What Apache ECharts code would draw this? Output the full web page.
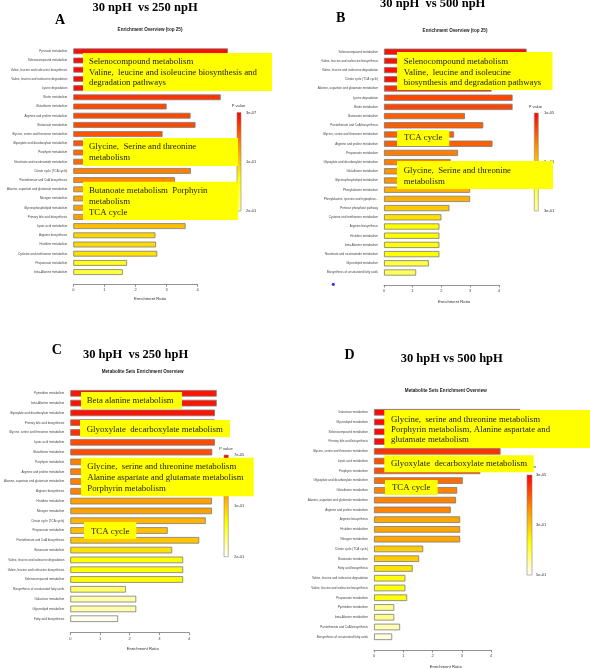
<!DOCTYPE html>
<html>
<head>
<meta charset="utf-8">
<script src="https://cdn.jsdelivr.net/npm/echarts@6/dist/echarts.min.js"></script>
<style>
  html, body { margin: 0; padding: 0; background: #fff; }
  #chart { width: 590px; height: 669px; }
</style>
</head>
<body>
<div id="chart"></div>
<script>
// ---- data ----
const catsA = ['Pyruvate metabolism', 'Selenocompound metabolism', 'Valine, leucine and isoleucine biosynthesis',
  'Valine, leucine and isoleucine degradation', 'Lysine degradation', 'Biotin metabolism', 'Glutathione metabolism',
  'Arginine and proline metabolism', 'Butanoate metabolism', 'Glycine, serine and threonine metabolism',
  'Glyoxylate and dicarboxylate metabolism', 'Porphyrin metabolism', 'Nicotinate and nicotinamide metabolism',
  'Citrate cycle (TCA cycle)', 'Pantothenate and CoA biosynthesis', 'Alanine, aspartate and glutamate metabolism',
  'Nitrogen metabolism', 'Glycerophospholipid metabolism', 'Primary bile acid biosynthesis', 'Lipoic acid metabolism',
  'Arginine biosynthesis', 'Histidine metabolism', 'Cysteine and methionine metabolism', 'Propanoate metabolism',
  'beta-Alanine metabolism'];
const ratioA = [4.97, 4.6, 4.6, 4.6, 4.2, 4.74, 3.0, 3.77, 3.93, 2.87, 3.3, 3.4, 3.4, 3.78, 3.27,
  3.5, 3.5, 3.5, 3.6, 3.61, 2.64, 2.66, 2.70, 1.73, 1.59];
const pA = [0.005, 0.005, 0.005, 0.005, 0.005, 0.024, 0.035, 0.035, 0.035, 0.04, 0.04, 0.05, 0.05, 0.061, 0.065,
  0.078, 0.078, 0.078, 0.078, 0.096, 0.11, 0.112, 0.116, 0.145, 0.16];
const legendA = ['3e-07', '1e-01', '2e-01'];

const catsB = ['Selenocompound metabolism', 'Valine, leucine and isoleucine biosynthesis',
  'Valine, leucine and isoleucine degradation', 'Citrate cycle (TCA cycle)', 'Alanine, aspartate and glutamate metabolism',
  'Lysine degradation', 'Biotin metabolism', 'Butanoate metabolism', 'Pantothenate and CoA biosynthesis',
  'Glycine, serine and threonine metabolism', 'Arginine and proline metabolism', 'Propanoate metabolism',
  'Glyoxylate and dicarboxylate metabolism', 'Glutathione metabolism', 'Glycerophospholipid metabolism',
  'Phenylalanine metabolism', 'Phenylalanine, tyrosine and tryptophan...', 'Pentose phosphate pathway',
  'Cysteine and methionine metabolism', 'Arginine biosynthesis', 'Histidine metabolism', 'beta-Alanine metabolism',
  'Nicotinate and nicotinamide metabolism', 'Glycerolipid metabolism', 'Biosynthesis of unsaturated fatty acids'];
const ratioB = [4.97, 4.5, 4.5, 4.3, 3.75, 4.48, 4.48, 2.82, 3.46, 2.44, 3.78, 2.58, 2.32, 2.6, 2.6,
  3.0, 3.0, 2.28, 2.0, 1.93, 1.93, 1.93, 1.93, 1.56, 1.12];
const pB = [0.011, 0.011, 0.011, 0.011, 0.032, 0.05, 0.05, 0.068, 0.068, 0.068, 0.068, 0.089, 0.089, 0.108, 0.108,
  0.131, 0.131, 0.152, 0.173, 0.2, 0.2, 0.2, 0.2, 0.24, 0.255];
const legendB = ['1e-05', '2e-01', '3e-01'];

const catsC = ['Pyrimidine metabolism', 'beta-Alanine metabolism', 'Glyoxylate and dicarboxylate metabolism',
  'Primary bile acid biosynthesis', 'Glycine, serine and threonine metabolism', 'Lipoic acid metabolism',
  'Glutathione metabolism', 'Porphyrin metabolism', 'Arginine and proline metabolism',
  'Alanine, aspartate and glutamate metabolism', 'Arginine biosynthesis', 'Histidine metabolism', 'Nitrogen metabolism',
  'Citrate cycle (TCA cycle)', 'Propanoate metabolism', 'Pantothenate and CoA biosynthesis', 'Butanoate metabolism',
  'Valine, leucine and isoleucine degradation', 'Valine, leucine and isoleucine biosynthesis',
  'Selenocompound metabolism', 'Biosynthesis of unsaturated fatty acids', 'Galactose metabolism',
  'Glycerolipid metabolism', 'Fatty acid biosynthesis'];
const ratioC = [4.93, 4.93, 4.87, 4.87, 4.87, 4.87, 4.78, 4.77, 4.77, 4.77, 4.77, 4.77, 4.77, 4.56, 3.28,
  4.34, 3.43, 3.8, 3.8, 3.8, 1.87, 2.22, 2.22, 1.61];
const pC = [0.0095, 0.0095, 0.0095, 0.023, 0.023, 0.036, 0.036, 0.061, 0.061, 0.061, 0.061, 0.078, 0.078,
  0.09, 0.096, 0.1, 0.116, 0.133, 0.133, 0.133, 0.16, 0.178, 0.178, 0.196];
const legendC = ['7e-05', '1e-01', '2e-01'];

const catsD = ['Galactose metabolism', 'Glycerolipid metabolism', 'Selenocompound metabolism',
  'Primary bile acid biosynthesis', 'Glycine, serine and threonine metabolism', 'Lipoic acid metabolism',
  'Porphyrin metabolism', 'Glyoxylate and dicarboxylate metabolism', 'Glutathione metabolism',
  'Alanine, aspartate and glutamate metabolism', 'Arginine and proline metabolism', 'Arginine biosynthesis',
  'Histidine metabolism', 'Nitrogen metabolism', 'Citrate cycle (TCA cycle)', 'Butanoate metabolism',
  'Fatty acid biosynthesis', 'Valine, leucine and isoleucine degradation', 'Valine, leucine and isoleucine biosynthesis',
  'Propanoate metabolism', 'Pyrimidine metabolism', 'beta-Alanine metabolism', 'Pantothenate and CoA biosynthesis',
  'Biosynthesis of unsaturated fatty acids'];
const ratioD = [4.99, 4.8, 4.8, 4.8, 4.32, 3.9, 3.63, 3.03, 2.84, 2.8, 2.62, 2.94, 2.94, 2.94, 1.68,
  1.54, 1.32, 1.07, 1.07, 1.13, 0.69, 0.69, 0.89, 0.62];
const pD = [0.012, 0.012, 0.012, 0.012, 0.06, 0.095, 0.095, 0.13, 0.155, 0.155, 0.155, 0.205, 0.205, 0.205,
  0.26, 0.26, 0.295, 0.34, 0.34, 0.34, 0.425, 0.425, 0.45, 0.48];
const legendD = ['3e-05', '3e-01', '5e-01'];

const xTicks = [0, 1, 2, 3, 4];

// ---- layout ----
const SERIF = '"Liberation Serif", "DejaVu Serif", serif';
const SANS = '"Liberation Sans", Arial, sans-serif';

const panels = [
  { cats: catsA, ratio: ratioA, p: pA, pmin: 0, pmax: 0.2, legend: legendA,
    colors: ['#ff0000', '#ff8c00', '#ffff00', '#ffff90'],
    left: 73.3, unit: 31.1, top: 46.7, band: 9.2, barWidth: 5.8, axisY: 284.3,
    leg: { x: 237, y: 112.5, w: 4, h: 98.5, title: [238.5, 106], lx: 246 },
    sub: ['Enrichment Overview (top 25)', 150, 29.7], xname: [150, 299] },
  { cats: catsB, ratio: ratioB, p: pB, pmin: 0, pmax: 0.3, legend: legendB,
    colors: ['#ff0000', '#ff8c00', '#ffff00', '#ffffa8'],
    left: 384, unit: 28.7, top: 47.1, band: 9.2, barWidth: 6.2, axisY: 285,
    leg: { x: 534.3, y: 113, w: 4, h: 98, title: [535.3, 107], lx: 544 },
    sub: ['Enrichment Overview (top 25)', 455, 30.3], xname: [454, 302.3] },
  { cats: catsC, ratio: ratioC, p: pC, pmin: 0, pmax: 0.2, legend: legendC,
    colors: ['#ff0000', '#ff8c00', '#ffff00', '#ffffff'],
    left: 70.3, unit: 29.7, top: 388.4, band: 9.8, barWidth: 6.6, axisY: 632.7,
    leg: { x: 224, y: 455, w: 4.3, h: 101.7, title: [226, 449], lx: 234 },
    sub: ['Metabolite Sets Enrichment Overview', 142.7, 371.7], xname: [142.7, 649.3] },
  { cats: catsD, ratio: ratioD, p: pD, pmin: 0, pmax: 0.5, legend: legendD,
    colors: ['#ff0000', '#ff8c00', '#ffff00', '#ffffff'],
    left: 374, unit: 29.3, top: 407.4, band: 9.76, barWidth: 6.6, axisY: 650,
    leg: { x: 527, y: 475, w: 5, h: 100, title: [529.5, 467.3], lx: 536 },
    sub: ['Metabolite Sets Enrichment Overview', 445.8, 391], xname: [445.7, 666.7] }
];

const grid = [], xAxis = [], yAxis = [], series = [], visualMap = [], graphic = [];

panels.forEach((pn, i) => {
  const g = 2 * i;
  grid.push({ left: pn.left, top: pn.top, width: 6 * pn.unit, height: pn.band * pn.cats.length, outerBoundsMode: 'none' });
  grid.push({ left: pn.left, top: pn.axisY - 1, width: 4 * pn.unit, height: 1, outerBoundsMode: 'none' });
  xAxis.push({ gridIndex: g, type: 'value', min: 0, max: 6, show: false });
  xAxis.push({
    gridIndex: g + 1, type: 'value', min: xTicks[0], max: xTicks[xTicks.length - 1], interval: 1,
    axisLine: { show: true, lineStyle: { color: '#777', width: 0.8 } },
    axisTick: { show: true, length: 2.5, lineStyle: { color: '#777', width: 0.8 } },
    axisLabel: { fontSize: 4, color: '#444', margin: 4, fontFamily: SANS },
    splitLine: { show: false }
  });
  yAxis.push({
    gridIndex: g, type: 'category', data: pn.cats, inverse: true,
    axisLine: { show: false }, axisTick: { show: false }, splitLine: { show: false },
    axisLabel: { fontSize: 3, color: '#444', margin: 6, interval: 0, fontFamily: SANS }
  });
  yAxis.push({ gridIndex: g + 1, type: 'value', show: false });
  series.push({
    type: 'bar', xAxisIndex: g, yAxisIndex: g, barWidth: pn.barWidth,
    data: pn.ratio.map((r, k) => [r, pn.cats[k], pn.p[k]]),
    encode: { x: 0, y: 1 },
    itemStyle: { borderColor: '#7a7a7a', borderWidth: 0.8 },
    silent: true
  });
  visualMap.push({
    show: false, type: 'continuous', seriesIndex: i, dimension: 2,
    min: pn.pmin, max: pn.pmax, inRange: { color: pn.colors }
  });

  // colour key
  const L = pn.leg;
  graphic.push({
    type: 'rect', shape: { x: L.x, y: L.y, width: L.w, height: L.h }, z: 50,
    style: {
      fill: new echarts.graphic.LinearGradient(0, 0, 0, 1,
        pn.colors.map((c, k) => ({ offset: k / (pn.colors.length - 1), color: c }))),
      stroke: '#888', lineWidth: 0.6
    }
  });
  graphic.push({ type: 'text', z: 50, style: { text: 'P value', x: L.title[0], y: L.title[1], align: 'center', verticalAlign: 'middle', font: '4px ' + SANS, fill: '#333' } });
  pn.legend.forEach((t, k) => {
    graphic.push({ type: 'text', z: 50, style: { text: t, x: L.lx, y: L.y + L.h * k / (pn.legend.length - 1), align: 'left', verticalAlign: 'middle', font: '4px ' + SANS, fill: '#333' } });
  });
  graphic.push({ type: 'text', z: 50, style: { text: pn.sub[0], x: pn.sub[1], y: pn.sub[2], align: 'center', verticalAlign: 'middle', font: 'bold 4.6px ' + SANS, fill: '#222' } });
  graphic.push({ type: 'text', z: 50, style: { text: 'Enrichment Ratio', x: pn.xname[0], y: pn.xname[1], align: 'center', verticalAlign: 'middle', font: '4.2px ' + SANS, fill: '#333' } });
});

// panel titles and letters
const heads = [
  ['30 npH  vs 250 npH', 145, 7.8, 12.5], ['30 npH  vs 500 npH', 432.7, 3.8, 12.5],
  ['30 hpH  vs 250 hpH', 135.5, 355, 12.5], ['30 hpH vs 500 hpH', 451.7, 359, 12.5],
  ['A', 60, 20.8, 14], ['B', 340.7, 18.8, 14], ['C', 56.7, 350.3, 14], ['D', 349.5, 355.5, 14]
];
heads.forEach(h => graphic.push({ type: 'text', z: 60, style: { text: h[0], x: h[1], y: h[2], align: 'center', verticalAlign: 'middle', font: 'bold ' + h[3] + 'px ' + SERIF, fill: '#000' } }));

// stray dot in panel B
graphic.push({ type: 'circle', z: 60, shape: { cx: 333.3, cy: 284.3, r: 1.6 }, style: { fill: '#3a3ae0' } });

// yellow annotation boxes: [x, y, w, h, textX, textTop, lineHeight, lines]
const boxes = [
  [83, 53, 189, 38, 89, 56.7, 10.5, ['Selenocompound metabolism', 'Valine,  leucine and isoleucine biosynthesis and', 'degradation pathways']],
  [83, 138, 155, 28, 89, 141.7, 10.8, ['Glycine,  Serine and threonine', 'metabolism']],
  [83, 181.7, 155, 38.3, 89, 185.3, 10.8, ['Butanoate metabolism  Porphyrin', 'metabolism', 'TCA cycle']],
  [397, 52, 155.5, 38, 403.7, 56.5, 10.5, ['Selenocompound metabolism', 'Valine,  leucine and isoleucine', 'biosynthesis and degradation pathways']],
  [397, 130, 52.3, 16, 404, 132.7, 10.5, ['TCA cycle']],
  [397, 161, 156, 28, 403.7, 165.4, 10.6, ['Glycine,  Serine and threonine', 'metabolism']],
  [81, 392, 101, 17, 86.7, 395.7, 10.5, ['Beta alanine metabolism']],
  [80, 420, 150, 17, 86.7, 424, 10.5, ['Glyoxylate  decarboxylate metabolism']],
  [81, 457.7, 172.7, 38.6, 87.3, 461.7, 10.65, ['Glycine,  serine and threonine metabolism', 'Alanine aspartate and glutamate metabolism', 'Porphyrin metabolism']],
  [84, 522, 52.3, 17, 91, 526, 10.5, ['TCA cycle']],
  [384.3, 410, 205.7, 38, 391, 414.6, 10.15, ['Glycine,  serine and threonine metabolism', 'Porphyrin metabolism, Alanine aspartate and', 'glutamate metabolism']],
  [384.3, 455.3, 149.4, 17, 391, 458.8, 10.5, ['Glyoxylate  decarboxylate metabolism']],
  [385, 480, 52.7, 15, 392, 482.8, 10.5, ['TCA cycle']]
];
boxes.forEach(b => {
  graphic.push({ type: 'rect', z: 100, shape: { x: b[0], y: b[1], width: b[2], height: b[3] }, style: { fill: '#ffff00' } });
  graphic.push({ type: 'text', z: 101, style: { text: b[7].join('\n'), x: b[4], y: b[5], align: 'left', verticalAlign: 'top', lineHeight: b[6], font: '8.8px ' + SERIF, fill: '#1a1a1a' } });
});

const chart = echarts.init(document.getElementById('chart'), null, { renderer: 'canvas' });
chart.setOption({
  animation: false,
  backgroundColor: '#fff',
  grid, xAxis, yAxis, series, visualMap, graphic
});
</script>
</body>
</html>
